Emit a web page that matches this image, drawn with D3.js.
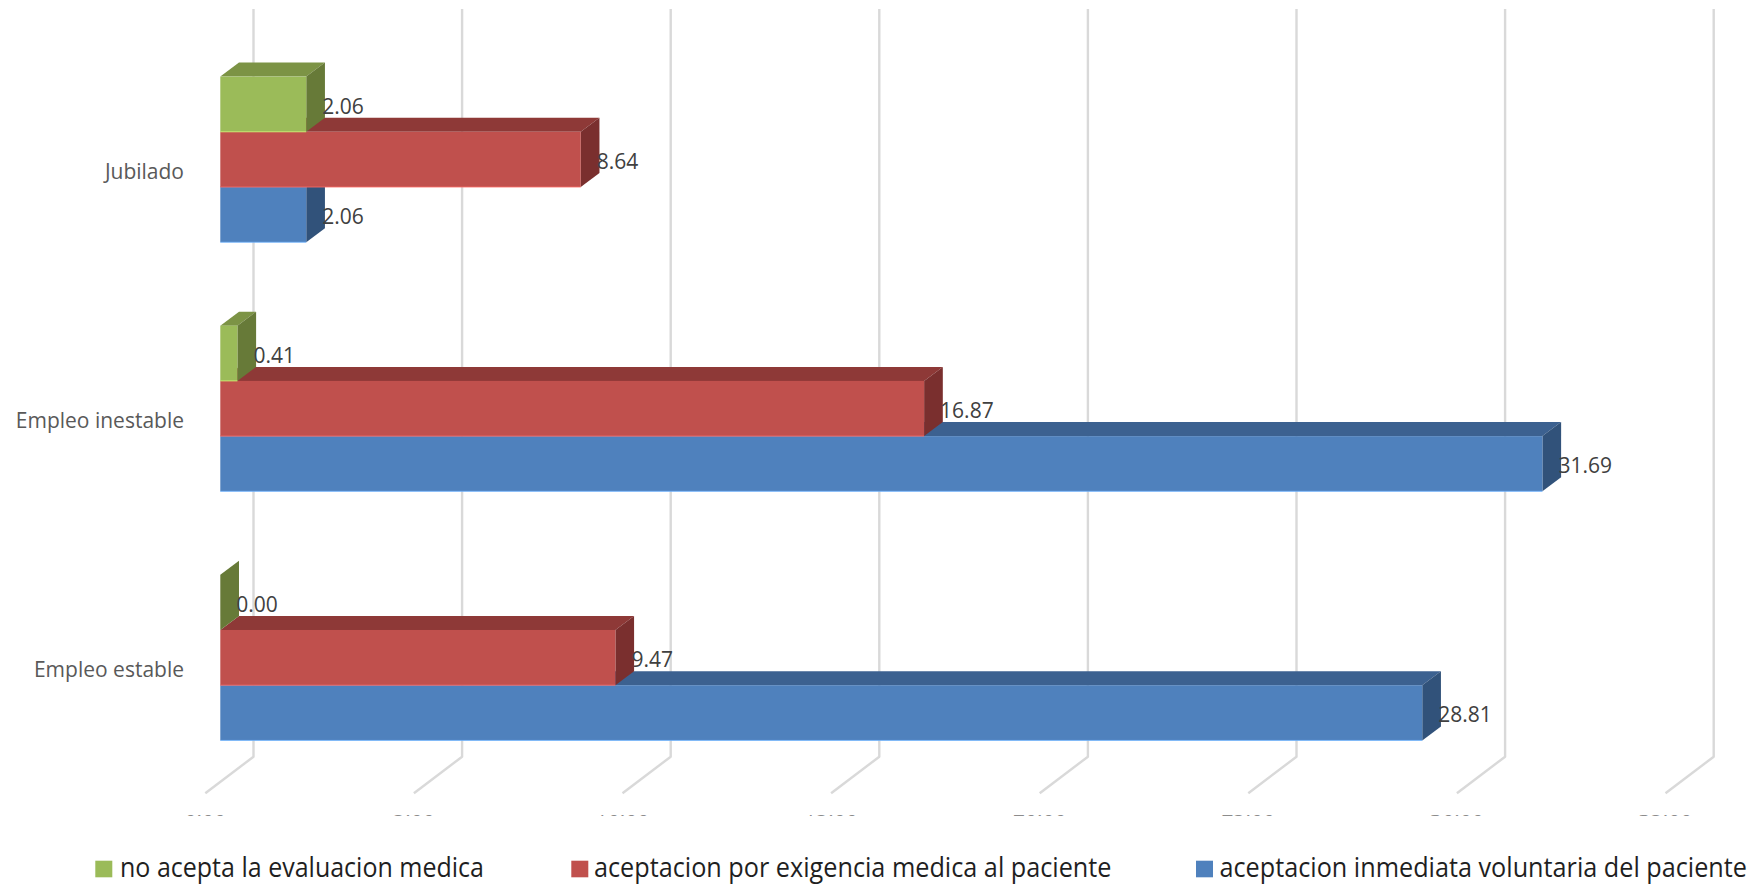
<!DOCTYPE html>
<html>
<head>
<meta charset="utf-8">
<title>Aceptación de la evaluación médica según situación laboral</title>
<script src="https://cdn.jsdelivr.net/npm/d3@7"></script>
<style>
  html, body { margin: 0; padding: 0; background: #fff; }
  svg { display: block; }
  text { font-family: "Open Sans", "Noto Sans", sans-serif; }
</style>
</head>
<body>
<svg id="chart" width="1764" height="885"></svg>
<script>
// Situación laboral, top to bottom
const categories = ["Jubilado", "Empleo inestable", "Empleo estable"];
// Series, top bar to bottom bar inside each group
const seriesNames = [
  "no acepta la evaluacion medica",
  "aceptacion por exigencia medica al paciente",
  "aceptacion inmediata voluntaria del paciente"
];
const noAcepta = [2.06, 0.41, 0.00];
const exigencia = [8.64, 16.87, 9.47];
const voluntaria = [2.06, 31.69, 28.81];
const tickValues = [0, 5, 10, 15, 20, 25, 30, 35];

// Face colours per series: front, top, side
const frontColors = ["#9bbb59", "#c0504d", "#4f81bd"];
const topColors = ["#7c9345", "#8e3937", "#3c6190"];
const sideColors = ["#677a38", "#7a2f2e", "#31527a"];

const seriesValues = [noAcepta, exigencia, voluntaria];

const svg = d3.select("#chart");

// Scales: value along x, category and series along y
const x = d3.scaleLinear().domain([0, 35]).range([220.3, 1680.5]);
const yGroup = d3.scaleBand().domain(categories).range([35, 782])
  .paddingInner(0.335).paddingOuter(0.167);
const ySeries = d3.scaleBand().domain(d3.range(seriesNames.length))
  .range([0, yGroup.bandwidth()]);

// 3D projection offsets
const barDepthX = 18.7, barDepthY = 14;
const wallDX = 33.2, floorDX = -15, floorY = 756.7, floorFrontY = 793.3, wallTop = 9;

// Gridlines on the back wall, folding forward across the floor
const grid = svg.append("g").attr("fill", "none").attr("stroke", "#d9d9d9").attr("stroke-width", 2.4);
grid.selectAll("path").data(tickValues).join("path")
  .attr("stroke-linejoin", "round")
  .attr("d", v => d3.line()([
    [x(v) + wallDX, wallTop],
    [x(v) + wallDX, floorY],
    [x(v) + floorDX, floorFrontY]
  ]));

// Axis tick labels are cut off by the plot's text box: only a sliver of each shows
svg.append("clipPath").attr("id", "tick-clip").append("rect")
  .attr("x", 0).attr("y", 815).attr("width", 1764).attr("height", 1);
svg.append("g").attr("clip-path", "url(#tick-clip)")
  .selectAll("text").data(tickValues).join("text")
  .attr("x", v => x(v) + floorDX)
  .attr("y", 815.6)
  .attr("text-anchor", "middle")
  .attr("font-size", 21)
  .attr("fill", "#8c8c8c")
  .text(v => d3.format(".2f")(v));

// Bars painted bottom series first so the upper box hides what lies behind it
const bars = [];
categories.forEach((c, ci) => {
  seriesNames.forEach((s, si) => {
    bars.push({ category: c, si, value: seriesValues[si][ci] });
  });
});
const ordered = bars.slice().sort((a, b) => b.si - a.si);

const barG = svg.append("g");
ordered.forEach(d => {
  const x0 = x(0), x1 = x(d.value);
  const y0 = yGroup(d.category) + ySeries(d.si);
  const y1 = y0 + ySeries.bandwidth();
  const g = barG.append("g");
  const dx = barDepthX, dy = barDepthY;
  const poly = pts => d3.line()(pts) + "Z";
  g.append("path").attr("fill", topColors[d.si])
    .attr("d", poly([[x0, y0], [x0 + dx, y0 - dy], [x1 + dx, y0 - dy], [x1, y0]]));
  g.append("path").attr("fill", sideColors[d.si])
    .attr("d", poly([[x1, y0], [x1 + dx, y0 - dy], [x1 + dx, y1 - dy], [x1, y1]]));
  g.append("rect").attr("fill", frontColors[d.si])
    .attr("x", x0).attr("y", y0).attr("width", x1 - x0).attr("height", y1 - y0);
  // Pale bottom edge of the front face
  g.append("path").attr("fill", "none")
    .attr("stroke", d3.color(frontColors[d.si]).brighter(0.9)).attr("stroke-width", 0.8)
    .attr("d", d3.line()([[x0, y1], [x1, y1]]));
});

// Value labels sit above every bar
svg.append("g").selectAll("text").data(bars).join("text")
  .attr("x", d => x(d.value) + 16)
  .attr("y", d => yGroup(d.category) + ySeries(d.si) + ySeries.bandwidth() / 2 + 9.5)
  .attr("font-size", 21)
  .attr("fill", "#404040")
  .text(d => d3.format(".2f")(d.value));

// Category labels
svg.append("g").selectAll("text").data(categories).join("text")
  .attr("x", 184)
  .attr("y", c => yGroup(c) + yGroup.bandwidth() / 2 + 19.6)
  .attr("text-anchor", "end")
  .attr("font-size", 21)
  .attr("fill", "#595959")
  .text(c => c);

// Legend
const legendSwatchX = [95.3, 571.3, 1196];
const legendTextX = [120, 594, 1219.5];
const legendTextLen = [364, 517.5, 527.5];
const legend = svg.append("g").selectAll("g").data(seriesNames).join("g");
legend.append("rect")
  .attr("x", (d, i) => legendSwatchX[i]).attr("y", 860.7)
  .attr("width", 17).attr("height", 16.6)
  .attr("fill", (d, i) => frontColors[i]);
legend.append("text")
  .attr("x", (d, i) => legendTextX[i]).attr("y", 876.8)
  .attr("font-size", 26.5)
  .attr("fill", "#1f1f1f")
  .attr("textLength", (d, i) => legendTextLen[i])
  .attr("lengthAdjust", "spacingAndGlyphs")
  .text(d => d);
</script>
</body>
</html>
